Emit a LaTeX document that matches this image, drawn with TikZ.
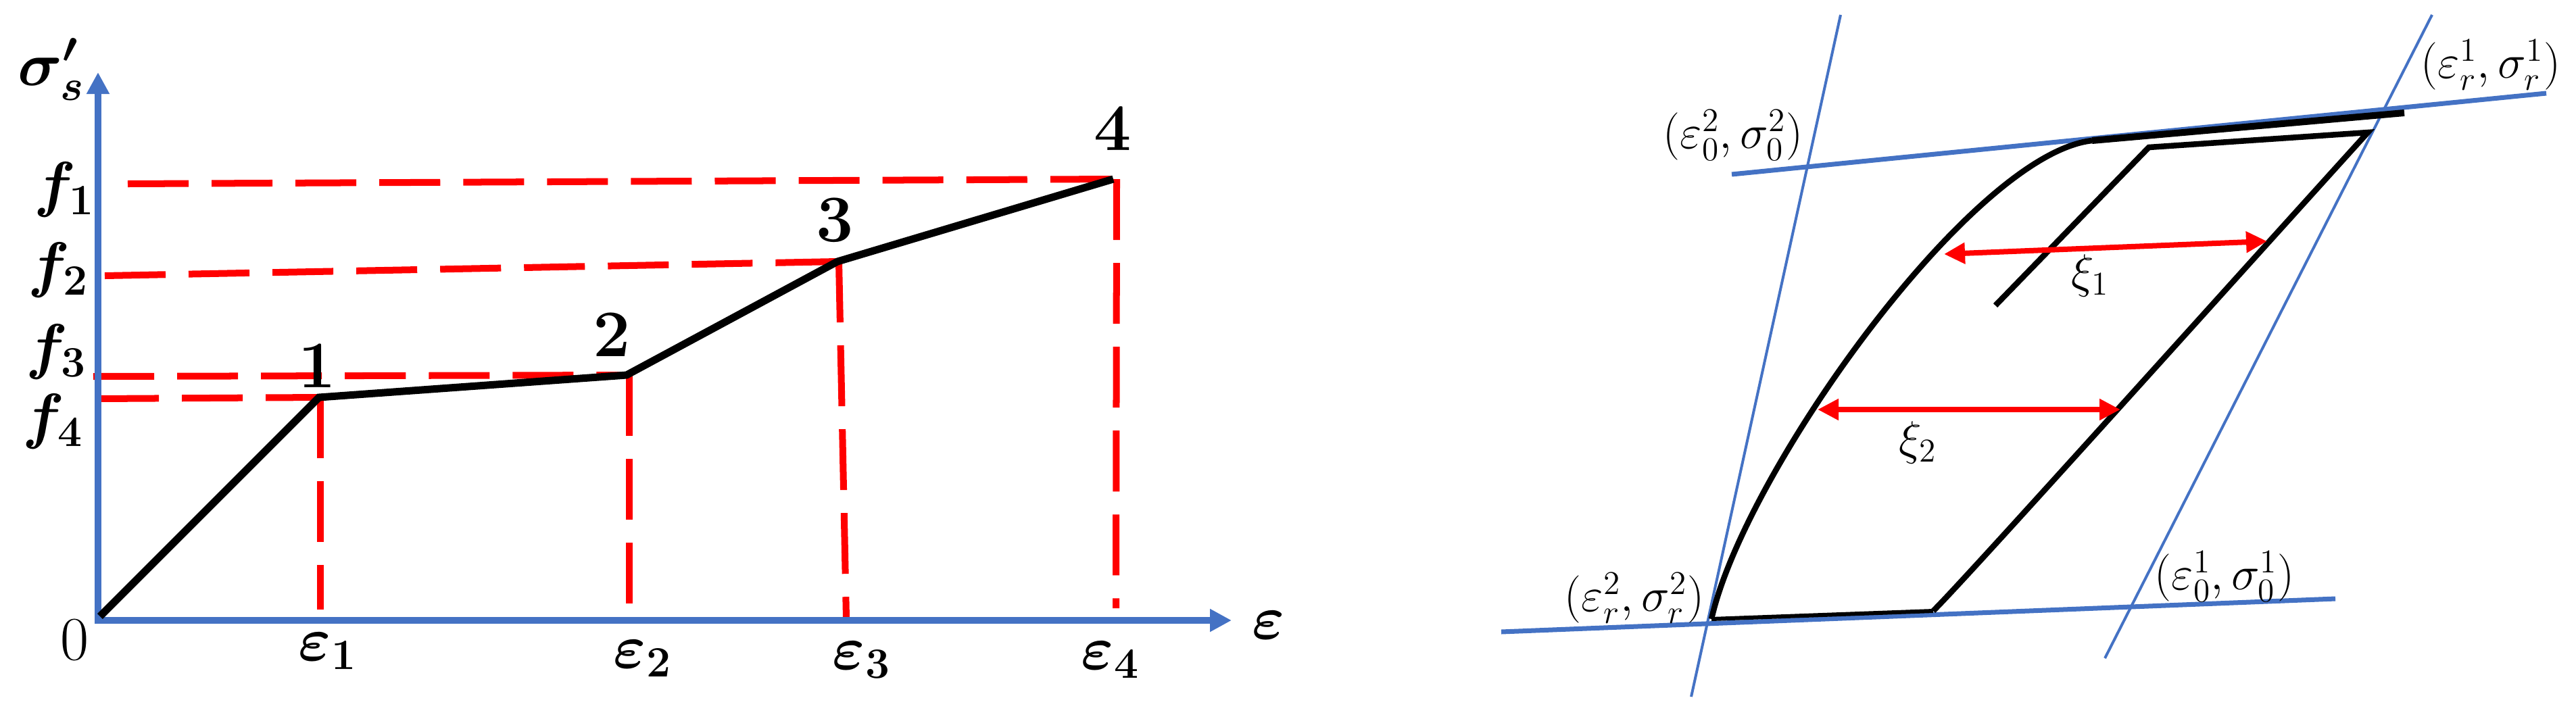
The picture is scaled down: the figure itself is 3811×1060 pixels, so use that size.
\RequirePackage{fix-cm}
\documentclass[tikz,border=0pt]{standalone}
\usepackage{amsmath,bm}
\usetikzlibrary{arrows.meta}
\definecolor{axblue}{RGB}{68,114,196}
\definecolor{dred}{RGB}{255,0,0}
\begin{document}
\begin{tikzpicture}[x=0.01cm,y=-0.01cm,
  axisline/.style={draw=axblue, line width=0.1cm, -{Triangle[length=0.32cm,width=0.32cm]}},
  curveline/.style={draw=black, line width=0.11cm},
  guide/.style={draw=dred, line width=0.1cm, dash pattern=on 0.9cm off 0.34cm},
  lbl/.style={inner sep=0pt, font=\fontsize{26}{31}\selectfont},
  ptlbl/.style={inner sep=0pt, anchor=base, font=\fontsize{28}{33}\selectfont\bfseries},
  epslbl/.style={inner sep=0pt, anchor=base, font=\fontsize{26}{31}\selectfont},
  thinblue/.style={draw=axblue, line width=0.04cm},
  thickblue/.style={draw=axblue, line width=0.07cm},
  loopline/.style={draw=black, line width=0.085cm},
  xiarrow/.style={draw=dred, line width=0.08cm, {Triangle[length=0.31cm,width=0.3cm]}-{Triangle[length=0.31cm,width=0.3cm]}},
  rlbl/.style={inner sep=0pt, font=\fontsize{20}{24}\selectfont},
]
\useasboundingbox (0,0) rectangle (3811,1060);

% ---------------- left plot ----------------
\coordinate (O) at (145,918);
\coordinate (Ytip) at (145,107);
\coordinate (Xtip) at (1822,918);
\coordinate (P0) at (148,912);
\coordinate (P1) at (472,588);
\coordinate (P2) at (927,555);
\coordinate (P3) at (1239,387);
\coordinate (P4) at (1647,265);

% dashed guides
\coordinate (h1a) at (189,272);
\coordinate (h2a) at (155,408);
\coordinate (h3a) at (138,557);
\coordinate (h4a) at (145,590);
\coordinate (v1t) at (474,588);  \coordinate (v1b) at (474,902);
\coordinate (v2t) at (931,555);  \coordinate (v2b) at (931,897);
\coordinate (v3t) at (1241,387); \coordinate (v3b) at (1252,915);
\coordinate (v4t) at (1652,265); \coordinate (v4b) at (1651,900);

\draw[guide] (h1a) -- (P4);
\draw[guide] (h2a) -- (P3);
\draw[guide] (h3a) -- (P2);
\draw[guide] (h4a) -- (P1);
\draw[guide] (v1t) -- (v1b);
\draw[guide] (v2t) -- (v2b);
\draw[guide] (v3t) -- (v3b);
\draw[guide] (v4t) -- (v4b);

\draw[axisline, line cap=rect] (O) -- (Ytip);
\draw[axisline, line cap=rect] (O) -- (Xtip);

\draw[curveline] (P0) -- (P1) -- (P2) -- (P3) -- (P4);

% labels
\node[lbl] (ylab) at (76,103) {$\bm{\sigma'_s}$};
\node[lbl] (f1) at (95,281) {$\bm{f_1}$};
\node[lbl] (f2) at (86,400) {$\bm{f_2}$};
\node[lbl] (f3) at (83,521) {$\bm{f_3}$};
\node[lbl] (f4) at (78,624) {$\bm{f_4}$};
\node[lbl] (zero) at (110,947) {0};
\node[lbl] (xlab) at (1877,925) {$\bm{\varepsilon}$};

\node[epslbl] (e1) at (485,977) {$\bm{\varepsilon_1}$};
\node[epslbl] (e2) at (951,988) {$\bm{\varepsilon_2}$};
\node[epslbl] (e3) at (1275,990) {$\bm{\varepsilon_3}$};
\node[epslbl] (e4) at (1643,990) {$\bm{\varepsilon_4}$};

\node[ptlbl] (n1) at (469,573) {1};
\node[ptlbl] (n2) at (905,527) {2};
\node[ptlbl] (n3) at (1235,357) {3};
\node[ptlbl] (n4) at (1646,222) {4};

% ---------------- right plot ----------------
\coordinate (L1a) at (2723,22);  \coordinate (L1b) at (2502,1031);
\coordinate (L2a) at (3598,22);  \coordinate (L2b) at (3114,974);
\coordinate (Ta) at (2562,258);  \coordinate (Tb) at (3767,138);
\coordinate (Ba) at (2221,935);  \coordinate (Bb) at (3455,886);

\draw[thinblue] (L1a) -- (L1b);
\draw[thinblue] (L2a) -- (L2b);
\draw[thickblue] (Ta) -- (Tb);
\draw[thickblue] (Ba) -- (Bb);

\coordinate (C0) at (2532,916);
\coordinate (Cbend) at (3095,208);
\coordinate (Cend) at (3557,167);
\coordinate (D0) at (2860,904);
\coordinate (Dtop) at (3503,196);
\coordinate (Etop) at (3179,218);
\coordinate (Eend) at (2952,452);

\draw[loopline] (C0) .. controls (2579,703) and (2916,228) .. (Cbend);
\draw[loopline, line width=0.1cm] (Cbend) -- (Cend);
\draw[loopline, line width=0.06cm] (C0) -- (D0);
\draw[loopline, line join=miter] (D0) .. controls (2905,860) and (3300,420) .. (Dtop) -- (Etop) -- (Eend);

\coordinate (x1a) at (2876,376); \coordinate (x1b) at (3354,357);
\coordinate (x2a) at (2689,606); \coordinate (x2b) at (3137,606);
\draw[xiarrow] (x1a) -- (x1b);
\draw[xiarrow] (x2a) -- (x2b);

\node[rlbl] (xi1) at (3092,408) {$\xi_1$};
\node[rlbl] (xi2) at (2837,655) {$\xi_2$};
\node[rlbl] (c02) at (2564,200) {$(\varepsilon_0^2,\sigma_0^2)$};
\node[rlbl] (cr1) at (3685,96) {$(\varepsilon_r^1,\sigma_r^1)$};
\node[rlbl] (cr2) at (2418,885) {$(\varepsilon_r^2,\sigma_r^2)$};
\node[rlbl] (c01) at (3291,853) {$(\varepsilon_0^1,\sigma_0^1)$};
\end{tikzpicture}
\end{document}
